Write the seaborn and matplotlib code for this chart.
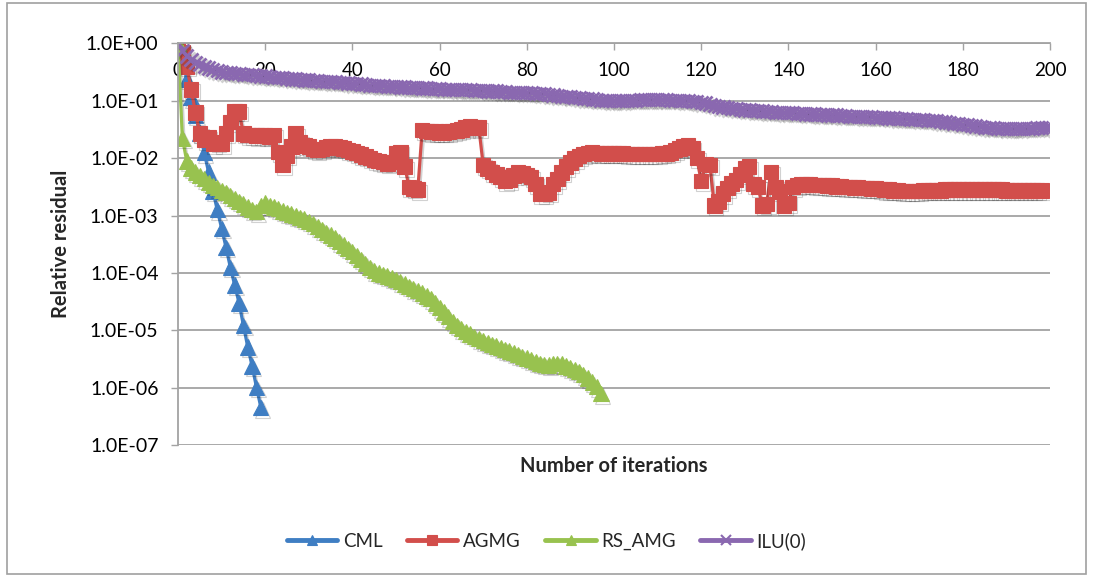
import numpy as np
import pandas as pd
import matplotlib
matplotlib.use("Agg")
import matplotlib.pyplot as plt
import seaborn as sns
from matplotlib import patheffects as pe
from matplotlib.lines import Line2D
from matplotlib.patches import Rectangle
from matplotlib.ticker import FixedLocator, FuncFormatter, NullLocator

# ---------------- data (log10 of relative residual, one value per iteration) -------------
solvers = ["CML", "AGMG", "RS_AMG", "ILU(0)"]

cml_log10 = [0.00, -0.30, -0.62, -0.95, -1.25, -1.56, -1.90, -2.24, -2.57, -2.90,
             -3.22, -3.55, -3.90, -4.21, -4.52, -4.91, -5.29, -5.62, -5.99, -6.34]

agmg_log10 = [0.00, -0.15, -0.40, -0.80, -1.20, -1.57, -1.68, -1.63, -1.75, -1.72,
              -1.75, -1.57, -1.37, -1.19, -1.19, -1.57, -1.60, -1.60, -1.61, -1.60,
              -1.61, -1.62, -1.60, -1.89, -2.12, -1.95, -1.80, -1.57, -1.72, -1.78,
              -1.80, -1.84, -1.86, -1.84, -1.81, -1.80, -1.80, -1.81, -1.83, -1.86,
              -1.88, -1.91, -1.94, -1.97, -2.00, -2.03, -2.05, -2.07, -2.09, -2.07,
              -1.92, -1.89, -2.15, -2.50, -2.53, -2.55, -1.51, -1.53, -1.54, -1.54,
              -1.55, -1.55, -1.54, -1.53, -1.52, -1.50, -1.47, -1.45, -1.46, -1.47,
              -2.12, -2.18, -2.24, -2.28, -2.33, -2.40, -2.38, -2.30, -2.24, -2.26,
              -2.29, -2.33, -2.45, -2.62, -2.62, -2.60, -2.45, -2.36, -2.25, -2.15,
              -2.08, -2.01, -1.96, -1.93, -1.91, -1.90, -1.91, -1.92, -1.92, -1.92,
              -1.92, -1.92, -1.92, -1.93, -1.93, -1.93, -1.93, -1.93, -1.93, -1.93,
              -1.93, -1.92, -1.92, -1.90, -1.86, -1.83, -1.80, -1.78, -1.82, -2.00,
              -2.40, -2.10, -2.12, -2.82, -2.75, -2.62, -2.52, -2.44, -2.38, -2.28,
              -2.18, -2.15, -2.45, -2.50, -2.82, -2.80, -2.24, -2.50, -2.58, -2.82,
              -2.78, -2.50, -2.47, -2.46, -2.46, -2.46, -2.47, -2.47, -2.47, -2.48,
              -2.48, -2.49, -2.49, -2.50, -2.50, -2.51, -2.51, -2.52, -2.52, -2.53,
              -2.53, -2.54, -2.55, -2.55, -2.56, -2.56, -2.57, -2.57, -2.57, -2.57,
              -2.57, -2.56, -2.56, -2.56, -2.56, -2.56, -2.55, -2.55, -2.55, -2.55,
              -2.55, -2.55, -2.55, -2.55, -2.55, -2.55, -2.55, -2.55, -2.55, -2.55,
              -2.56, -2.56, -2.56, -2.56, -2.56, -2.56, -2.56, -2.56, -2.56]

rs_amg_log10 = [0.00, -1.65, -2.05, -2.17, -2.24, -2.30, -2.36, -2.42, -2.47, -2.51,
                -2.56, -2.60, -2.65, -2.70, -2.75, -2.80, -2.85, -2.90, -2.93, -2.82,
                -2.78, -2.82, -2.85, -2.88, -2.92, -2.95, -2.97, -3.00, -3.03, -3.06,
                -3.10, -3.14, -3.19, -3.24, -3.29, -3.34, -3.39, -3.45, -3.51, -3.57,
                -3.63, -3.69, -3.76, -3.83, -3.90, -3.96, -4.00, -4.02, -4.05, -4.08,
                -4.11, -4.15, -4.19, -4.23, -4.27, -4.31, -4.35, -4.40, -4.45, -4.52,
                -4.60, -4.68, -4.76, -4.84, -4.91, -4.97, -5.02, -5.06, -5.10, -5.14,
                -5.18, -5.21, -5.24, -5.27, -5.30, -5.33, -5.36, -5.39, -5.42, -5.45,
                -5.48, -5.51, -5.54, -5.57, -5.59, -5.60, -5.58, -5.57, -5.58, -5.62,
                -5.65, -5.68, -5.72, -5.77, -5.83, -5.90, -5.98, -6.10]

ilu_log10 = [0.00, -0.12, -0.22, -0.28, -0.33, -0.37, -0.40, -0.43, -0.46, -0.48,
             -0.50, -0.51, -0.51, -0.52, -0.53, -0.54, -0.54, -0.55, -0.56, -0.57,
             -0.57, -0.58, -0.59, -0.59, -0.60, -0.61, -0.62, -0.62, -0.63, -0.64,
             -0.64, -0.65, -0.65, -0.66, -0.66, -0.67, -0.67, -0.68, -0.68, -0.69,
             -0.70, -0.70, -0.71, -0.72, -0.73, -0.73, -0.74, -0.74, -0.75, -0.75,
             -0.75, -0.76, -0.76, -0.77, -0.77, -0.77, -0.78, -0.78, -0.79, -0.79,
             -0.79, -0.80, -0.80, -0.80, -0.81, -0.81, -0.81, -0.81, -0.82, -0.82,
             -0.82, -0.83, -0.83, -0.83, -0.84, -0.84, -0.85, -0.85, -0.85, -0.86,
             -0.86, -0.86, -0.87, -0.88, -0.88, -0.89, -0.90, -0.91, -0.92, -0.92,
             -0.93, -0.94, -0.95, -0.96, -0.96, -0.97, -0.98, -0.99, -0.99, -1.00,
             -1.00, -1.00, -1.00, -0.99, -0.99, -0.99, -0.98, -0.98, -0.98, -0.98,
             -0.98, -0.98, -0.98, -0.99, -0.99, -0.99, -1.00, -1.00, -1.01, -1.02,
             -1.03, -1.04, -1.06, -1.08, -1.10, -1.11, -1.12, -1.13, -1.14, -1.15,
             -1.16, -1.16, -1.17, -1.17, -1.18, -1.19, -1.19, -1.20, -1.20, -1.21,
             -1.21, -1.21, -1.22, -1.22, -1.23, -1.23, -1.23, -1.24, -1.24, -1.25,
             -1.25, -1.25, -1.26, -1.26, -1.27, -1.27, -1.27, -1.28, -1.28, -1.28,
             -1.29, -1.29, -1.29, -1.30, -1.30, -1.31, -1.31, -1.31, -1.32, -1.32,
             -1.33, -1.33, -1.34, -1.34, -1.35, -1.36, -1.37, -1.38, -1.39, -1.40,
             -1.41, -1.42, -1.43, -1.44, -1.45, -1.46, -1.47, -1.47, -1.48, -1.48,
             -1.49, -1.49, -1.49, -1.49, -1.48, -1.48, -1.48, -1.47, -1.47, -1.46,
             -1.46]

x_ticks = [0, 20, 40, 60, 80, 100, 120, 140, 160, 180, 200]
y_ticks = [1e0, 1e-1, 1e-2, 1e-3, 1e-4, 1e-5, 1e-6, 1e-7]

colors = {"CML": "#3F7EC3", "AGMG": "#D24E4B", "RS_AMG": "#98C24F", "ILU(0)": "#8A68B0"}
markers = {"CML": "^", "AGMG": "s", "RS_AMG": "^", "ILU(0)": "x"}
msizes = {"CML": 11, "AGMG": 10.5, "RS_AMG": 11, "ILU(0)": 9.5}

series = {"CML": cml_log10, "AGMG": agmg_log10, "RS_AMG": rs_amg_log10, "ILU(0)": ilu_log10}
frames = []
for name in solvers:
    vals = np.array(series[name])
    frames.append(pd.DataFrame({"iteration": np.arange(len(vals)),
                                "residual": 10.0 ** vals,
                                "solver": name}))
df = pd.concat(frames, ignore_index=True)

# ---------------- figure ------------------------------------------------------------------
sns.set_theme(style="white")
plt.rcParams["font.family"] = ["Lato", "DejaVu Sans"]

fig = plt.figure(figsize=(10.93, 5.77), dpi=100)
ax = fig.add_axes([178 / 1093, 1 - 445.3 / 577, (1050 - 178) / 1093, (445.3 - 43.3) / 577])

shadow = [pe.SimpleLineShadow(offset=(1.2, -1.8), shadow_color="k", alpha=0.2), pe.Normal()]
for name in solvers:
    sub = df[df["solver"] == name]
    is_x = markers[name] == "x"
    sns.lineplot(data=sub, x="iteration", y="residual", color=colors[name],
                 marker=markers[name], markersize=msizes[name],
                 markeredgecolor=colors[name], markerfacecolor=colors[name],
                 markeredgewidth=2.0 if is_x else 0.8, linewidth=2.3,
                 legend=False, ax=ax, path_effects=shadow)

ax.set_yscale("log")
ax.set_ylim(1e-7, 1e0)
ax.set_xlim(0, 200)

grid_c = "#A3A3A3"
ax.yaxis.set_major_locator(FixedLocator(y_ticks))
ax.yaxis.set_minor_locator(NullLocator())
ax.yaxis.set_major_formatter(FuncFormatter(lambda v, p: f"{v:.1E}"))
ax.set_xticks(x_ticks)
ax.set_xticklabels([str(t) for t in x_ticks])

ax.tick_params(axis="y", which="major", left=True, direction="out", length=5,
               width=1.0, color=grid_c, pad=9, labelsize=14, labelcolor="black")
ax.tick_params(axis="x", which="major", top=True, bottom=False, labeltop=True,
               labelbottom=False, direction="in", length=5, width=1.0, color=grid_c,
               pad=-26, labelsize=13.5, labelcolor="black")

ax.grid(axis="y", color=grid_c, linewidth=1.3)
ax.grid(axis="x", visible=False)
ax.set_axisbelow(True)
for side in ["right", "bottom"]:
    ax.spines[side].set_visible(False)
for side in ["left", "top"]:
    ax.spines[side].set_color(grid_c)
    ax.spines[side].set_linewidth(1.3)

ax.xaxis.set_label_position("bottom")
ax.set_xlabel("Number of iterations", fontsize=14.5, fontweight="bold", labelpad=8)
ax.set_ylabel("Relative residual", fontsize=14.5, fontweight="bold", labelpad=11)

handles = [Line2D([0], [0], color=colors[n], marker=markers[n], linewidth=3.5,
                  markersize=7, markeredgecolor=colors[n],
                  markeredgewidth=1.5 if markers[n] == "x" else 0.8)
           for n in solvers]
fig.legend(handles, solvers, loc="center", bbox_to_anchor=(0.5, 1 - 541 / 577), ncol=4,
           frameon=False, fontsize=13.5, handlelength=2.7, handletextpad=0.3,
           columnspacing=1.3)

fig.add_artist(Rectangle((0.006, 0.006), 0.988, 0.988, transform=fig.transFigure,
                         fill=False, edgecolor="#A0A0A0", linewidth=1.2))

fig.savefig("out.png", dpi=100, facecolor="white")
